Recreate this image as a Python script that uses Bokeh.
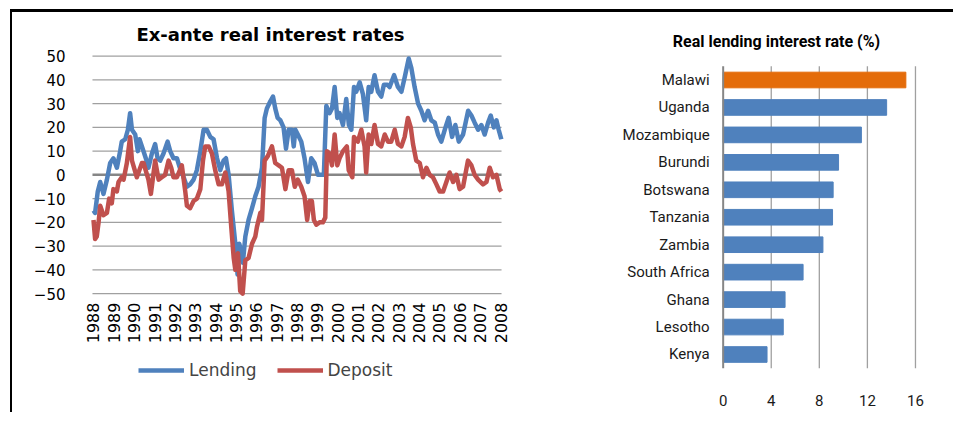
import math
from bokeh.plotting import figure
from bokeh.models import (FixedTicker, Legend, LegendItem, Label, ColumnDataSource, Grid)
from bokeh.layouts import row
from bokeh.embed import file_html
from bokeh.resources import INLINE

# ---------------- data: left chart (ex-ante real interest rates, %) ----------------
lend_year = [1988.00, 1988.08, 1988.21, 1988.33, 1988.49, 1988.66, 1988.82, 1988.98,
             1989.15, 1989.31, 1989.39, 1989.56, 1989.69, 1989.80, 1989.89, 1990.05,
             1990.18, 1990.26, 1990.38, 1990.57, 1990.70, 1990.87, 1991.03, 1991.15,
             1991.28, 1991.44, 1991.64, 1991.77, 1991.93, 1992.10, 1992.26, 1992.43,
             1992.59, 1992.75, 1992.92, 1993.08, 1993.25, 1993.41, 1993.57, 1993.74,
             1993.90, 1994.07, 1994.23, 1994.39, 1994.51, 1994.64, 1994.80, 1994.97,
             1995.08, 1995.16, 1995.26, 1995.34, 1995.46, 1995.62, 1995.79, 1995.95,
             1996.11, 1996.28, 1996.41, 1996.52, 1996.69, 1996.82, 1996.93, 1997.05,
             1997.18, 1997.34, 1997.46, 1997.59, 1997.75, 1997.84, 1997.92, 1998.04,
             1998.21, 1998.37, 1998.54, 1998.70, 1998.86, 1999.03, 1999.19, 1999.32,
             1999.44, 1999.60, 1999.72, 1999.85, 1999.98, 2000.09, 2000.26, 2000.42,
             2000.55, 2000.67, 2000.80, 2000.91, 2001.08, 2001.24, 2001.40, 2001.52,
             2001.65, 2001.81, 2001.98, 2002.14, 2002.27, 2002.44, 2002.55, 2002.77,
             2002.96, 2003.13, 2003.29, 2003.49, 2003.62, 2003.78, 2003.95, 2004.11,
             2004.27, 2004.44, 2004.60, 2004.77, 2004.93, 2005.09, 2005.26, 2005.45,
             2005.62, 2005.78, 2005.95, 2006.16, 2006.41, 2006.57, 2006.73, 2006.90,
             2007.06, 2007.22, 2007.39, 2007.52, 2007.67, 2007.80, 2007.91, 2008.04]
lend_val = [-15, -16, -7, -3, -8, -2, 5, 7,
            3, 10, 14, 15, 19, 26, 19, 17,
            10, 15, 12, 7, 3, 9, 13, 7,
            6, 9, 14, 10, 7, 7, 2.5, -1,
            -5, -4, -2, 2, 10, 19, 19, 16,
            15, 7, 2, 6, 7, 0, -15, -29,
            -42, -29, -32, -37, -26, -19, -14, -9,
            -5, 3, 24, 28, 31, 33, 28, 24,
            23, 20, 11, 19, 19, 12, 19, 17,
            14, 7, -3, 7, 5, 0, 0, 0,
            29, 26, 28, 37, 24, 26, 21, 32,
            21, 19, 37, 35, 39, 34, 23, 37,
            35, 42, 35, 33, 38, 38, 37, 42,
            37, 35, 41, 49, 45, 37, 30, 27,
            23, 27, 23, 22, 17, 14, 19, 24,
            16, 21, 14, 17, 27, 25, 22, 19,
            21, 17, 22, 25, 20, 23, 19, 15]

dep_year = [1988.00, 1988.08, 1988.16, 1988.25, 1988.33, 1988.49, 1988.66, 1988.77,
            1988.90, 1988.98, 1989.15, 1989.23, 1989.39, 1989.48, 1989.64, 1989.80,
            1989.89, 1990.13, 1990.38, 1990.46, 1990.70, 1990.82, 1991.03, 1991.20,
            1991.36, 1991.52, 1991.69, 1991.82, 1991.93, 1992.10, 1992.34, 1992.51,
            1992.59, 1992.75, 1992.92, 1993.08, 1993.25, 1993.38, 1993.49, 1993.66,
            1993.82, 1993.98, 1994.15, 1994.31, 1994.48, 1994.64, 1994.77, 1994.89,
            1994.97, 1995.10, 1995.21, 1995.33, 1995.46, 1995.62, 1995.79, 1995.95,
            1996.03, 1996.20, 1996.28, 1996.41, 1996.57, 1996.77, 1996.93, 1997.10,
            1997.26, 1997.43, 1997.59, 1997.75, 1997.89, 1998.04, 1998.21, 1998.37,
            1998.50, 1998.62, 1998.73, 1998.83, 1998.95, 1999.11, 1999.27, 1999.39,
            1999.47, 1999.60, 1999.72, 1999.85, 1999.98, 2000.09, 2000.26, 2000.45,
            2000.54, 2000.72, 2000.80, 2000.99, 2001.16, 2001.32, 2001.40, 2001.52,
            2001.65, 2001.81, 2001.98, 2002.14, 2002.31, 2002.47, 2002.63, 2002.80,
            2002.96, 2003.13, 2003.29, 2003.45, 2003.59, 2003.70, 2003.86, 2004.03,
            2004.19, 2004.36, 2004.52, 2004.68, 2004.85, 2005.01, 2005.18, 2005.34,
            2005.50, 2005.67, 2005.83, 2005.99, 2006.16, 2006.40, 2006.57, 2006.73,
            2006.90, 2007.14, 2007.31, 2007.47, 2007.63, 2007.80, 2007.96, 2008.04]
dep_val = [-19, -27, -26, -20, -13, -17, -16, -10,
           -12, -6, -7, -3, -1, -2, 5, 16,
           6, -1, 5, 5, -2, -8, 6, -2,
           -1, 0, 6, 3, -1, -1, 4, -7,
           -13, -14, -11, -10, -6, 6, 12, 12,
           9, 2, -4, -4, 1, -7, -22, -35,
           -40, -33, -49, -50, -36, -35, -29, -26,
           -22, -16, -19, 6, 8, 12, 5, 4,
           3, -6, 2, 2, -5, -2, -5, -9,
           -19, -11, -11, -19, -21, -20, -20, -18,
           10, 9, 4, 17, 4, 7, 10, 12,
           2, -1, 16, 14, 19, 12, 1, 17,
           13, 21, 13, 12, 17, 14, 14, 19,
           13, 12, 16, 24, 20, 13, 6, 5,
           -1, 3, 0, -1, -4, -7, -7, -3,
           1, -3, 0, -6, -5, 6, 4, 0,
           -2, -4, -3, 3, -1, 0, -6, -7]

year_ticks = list(range(1988, 2009))
rate_ticks = list(range(-50, 51, 10))

# ---------------- data: right chart (real lending interest rate, %) ----------------
countries = ["Malawi", "Uganda", "Mozambique", "Burundi", "Botswana", "Tanzania",
             "Zambia", "South Africa", "Ghana", "Lesotho", "Kenya"]
real_lending = [15.2, 13.6, 11.5, 9.6, 9.15, 9.1, 8.3, 6.65, 5.15, 5.0, 3.65]
highlight = "Malawi"
bar_ticks = [0, 4, 8, 12, 16]

# ---------------- styling ----------------
LEFT_FONT = "DejaVu Sans"
RIGHT_FONT = "Roboto"
BLUE = "#4F81BD"
RED = "#C0504D"
ORANGE = "#E46C0A"
GRID = "#a0a0a0"
AXIS_GREY = "#868686"

# ---------------- left chart ----------------
L_PX_PER_UNIT = 2.376      # pixels per percentage point
p1 = figure(width=568, height=400, x_range=(1987.46, 2008.54), y_range=(-100.1, 68.4),
            x_axis_location=None, output_backend="svg", toolbar_location=None,
            min_border_left=70, min_border_right=69, min_border_top=0, min_border_bottom=0)
p1.outline_line_color = None
p1.background_fill_color = "white"
p1.border_fill_color = "white"
for g in p1.select(type=Grid):
    g.visible = False

grid_x0 = year_ticks[0] - 0.05
grid_x1 = year_ticks[-1] + 0.05
other_ticks = [t for t in rate_ticks if t != 0]
p1.segment(x0=[grid_x0] * len(other_ticks), x1=[grid_x1] * len(other_ticks),
           y0=other_ticks, y1=other_ticks, line_color=GRID, line_width=1.3)
p1.segment(x0=[grid_x0], x1=[grid_x1], y0=[0], y1=[0], line_color=AXIS_GREY, line_width=2.5)

p1.yaxis.ticker = FixedTicker(ticks=rate_ticks)
p1.yaxis.axis_line_color = None
p1.yaxis.major_tick_line_color = None
p1.yaxis.minor_tick_line_color = None
p1.yaxis.major_label_text_font = LEFT_FONT
p1.yaxis.major_label_text_color = "black"
p1.yaxis.major_label_text_font_size = "15px"
p1.yaxis.major_label_standoff = 11

r_lend = p1.line(lend_year, lend_val, line_color=BLUE, line_width=4.5, line_join="round")
r_dep = p1.line(dep_year, dep_val, line_color=RED, line_width=4.5, line_join="round")

year_src = ColumnDataSource(dict(x=year_ticks,
                                 y=[rate_ticks[0] - 9 / L_PX_PER_UNIT] * len(year_ticks),
                                 t=[str(y) for y in year_ticks]))
p1.text(x="x", y="y", text="t", source=year_src, angle=math.pi / 2,
        text_align="right", text_baseline="middle", text_font_size="16px",
        text_font={"value": LEFT_FONT}, text_color="black")

legend = Legend(items=[LegendItem(label="Lending", renderers=[r_lend]),
                       LegendItem(label="Deposit", renderers=[r_dep])],
                orientation="horizontal", location=(56, 32),
                border_line_color=None, background_fill_alpha=0,
                label_text_font=LEFT_FONT, label_text_font_size="17px",
                glyph_width=46, glyph_height=20, label_height=20,
                spacing=20, padding=0, margin=0, label_standoff=5)
p1.add_layout(legend)

p1.add_layout(Label(x=188, y=378, x_units="screen", y_units="screen",
                    text="Ex-ante real interest rates", text_align="center",
                    text_baseline="middle", text_font=LEFT_FONT, text_font_size="18px",
                    text_font_style="bold", text_color="black"))

# ---------------- right chart ----------------
R_PX_PER_ROW = 27.45
R_PX_PER_UNIT = 12.02
n = len(countries)
positions = list(range(n - 1, -1, -1))  # first country on top
src = ColumnDataSource(dict(pos=positions, rate=real_lending,
                            color=[ORANGE if c == highlight else BLUE for c in countries]))

p2 = figure(width=373, height=400, x_range=(-11.87, 17.5), y_range=(-2.113, 12.459),
            x_axis_location=None, y_axis_location=None,
            output_backend="svg", toolbar_location=None,
            min_border_left=0, min_border_right=20, min_border_top=0, min_border_bottom=0)
p2.outline_line_color = None
p2.background_fill_color = "white"
p2.border_fill_color = "white"
for g in p2.select(type=Grid):
    g.visible = False

p2.segment(x0=bar_ticks[1:], x1=bar_ticks[1:],
           y0=[-0.5] * (len(bar_ticks) - 1), y1=[n - 0.5] * (len(bar_ticks) - 1),
           line_color=GRID, line_width=1.3)
p2.hbar(y="pos", right="rate", left=0, height=0.57, color="color", source=src)
p2.segment(x0=[bar_ticks[0]], x1=[bar_ticks[0]], y0=[-0.5], y1=[n - 0.5],
           line_color=AXIS_GREY, line_width=2)

cat_src = ColumnDataSource(dict(x=[bar_ticks[0] - 13.5 / R_PX_PER_UNIT] * n, y=positions,
                                t=countries))
p2.text(x="x", y="y", text="t", source=cat_src, text_align="right",
        text_baseline="middle", text_font_size="15px",
        text_font={"value": RIGHT_FONT}, text_color="#1a1a1a")

val_src = ColumnDataSource(dict(x=bar_ticks,
                                y=[-0.5 - 32 / R_PX_PER_ROW] * len(bar_ticks),
                                t=[str(v) for v in bar_ticks]))
p2.text(x="x", y="y", text="t", source=val_src, text_align="center",
        text_baseline="middle", text_font_size="15px",
        text_font={"value": RIGHT_FONT}, text_color="#1a1a1a")

p2.add_layout(Label(x=196, y=371, x_units="screen", y_units="screen",
                    text="Real lending interest rate (%)", text_align="center",
                    text_baseline="middle", text_font=RIGHT_FONT, text_font_size="16px",
                    text_font_style="bold", text_color="black"))

layout = row(p1, p2, styles={"border-top": "3px solid black",
                             "border-left": "2px solid black",
                             "margin-top": "9px", "margin-left": "10px"})

open("out.html", "w").write(file_html(layout, INLINE))
